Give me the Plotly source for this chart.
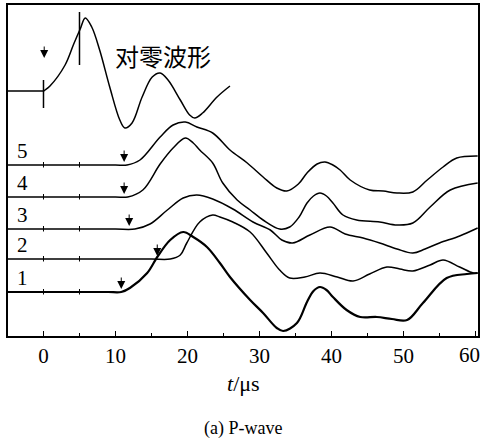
import plotly.graph_objects as go

# ---- data (time in microseconds, amplitude in plot units) ----
zero_t = [-5, -0.5, 0, 0.2, 0.9, 3.0, 4.2, 5.1, 5.8, 6.7, 7.8, 9.2, 10.6, 11.3, 12.3, 13.7,
          15.1, 16.2, 17.3, 19.0, 20.3, 21.0, 22.1, 24.1, 25.9]
zero_a = [0, 0, 0, 1, 5, 26, 47, 62, 73, 64, 41, 4, -29, -37, -32, -6,
          14, 18, 11, -9, -24, -27, -22, -6, 5]

t5 = [-5, 0, 5, 10, 11.6, 13.4, 16.2, 18.0, 19.7, 21.3, 23.5, 25.9, 28.3, 30.5, 32.4, 33.8,
      35.4, 36.6, 38.0, 39.1, 40.2, 41.2, 42.6, 45.3, 47.2, 49.1, 51.3, 53.3, 55.5, 57.4, 60.3]
a5 = [0, 0, 0, 0, 0, 5, 28, 40, 43, 38, 32, 15, 2, -12, -23, -26,
      -19, -8, 1, 3, 0, -5, -15, -25, -26, -28, -27, -15, -2, 7, 9]

t4 = [-5, 0, 5, 10, 11.7, 13.8, 16.2, 18.0, 19.7, 20.8, 21.7, 23.5, 24.9, 26.9, 28.7, 30.5,
      32.8, 34.2, 35.5, 36.6, 37.5, 38.4, 39.3, 40.2, 41.6, 43.5, 46.7, 49.1, 51.3, 53.7, 56.5, 60.3]
a4 = [0, 0, 0, 0, 0, 7, 33, 49, 59, 54, 47, 34, 14, -3, -13, -23,
      -32, -30, -20, -6, 1, 4, 1, -6, -18, -23, -25, -28, -26, -10, 7, 14]

t3 = [-5, 0, 5, 10, 12.7, 14.8, 17.2, 19.4, 21.3, 23.5, 26.3, 29.1, 31.5, 33.1, 34.6,
      37.0, 39.8, 41.9, 44.4, 46.7, 49.1, 51.3, 53.0, 55.0, 57.8, 60.3]
a3 = [0, 0, 0, 0, 0, 5, 19, 31, 34, 30, 20, 7, -1, -11, -14,
      -6, 2, -5, -9, -14, -20, -24, -20, -14, -7, 1]

t2 = [-5, 0, 5, 10, 15, 17.6, 19.0, 19.9, 21.7, 23.5, 24.5, 26.3, 28.7, 31.0, 32.8, 34.2,
      36.3, 38.4, 40.8, 43.0, 45.3, 47.7, 49.5, 51.3, 53.7, 55.5, 57.8, 59.7, 60.3]
a2 = [0, 0, 0, 0, 0, 0, 4, 16, 37, 44, 42, 37, 27, 6, -11, -19,
      -18, -14, -18, -22, -15, -8, -10, -12, -6, -1, -8, -14, -14]

t1 = [-5, 0, 5, 9, 10.8, 12.0, 14.4, 15.8, 17.6, 19.4, 20.8, 22.7, 24.5, 25.9, 28.7, 30.5,
      32.4, 33.3, 35.2, 36.6, 37.5, 38.4, 39.3, 40.2, 42.1, 44.0, 46.3, 48.4, 50.5, 52.7,
      56.0, 58.8, 60.3]
a1 = [0, 0, 0, 0, 0, 4, 19, 35, 52, 60, 55, 45, 29, 15, -8, -21,
      -36, -39, -31, -10, 1, 5, 2, -5, -18, -25, -25, -27, -28, -11,
      14, 18, 19]

trace_labels = ["5", "4", "3", "2", "1"]
trace_times = [t5, t4, t3, t2, t1]
trace_amps = [a5, a4, a3, a2, a1]
baselines = [171, 139, 107, 77, 44]
zero_baseline = 245
onset_times = [11.2, 11.2, 11.9, 15.8, 10.8]
zero_onset = 0.1
marker_times = [0, 5]
x_ticks = [0, 10, 20, 30, 40, 50, 60]

SERIF = "Liberation Serif, Times New Roman, serif"
SMOOTH = 1.0

fig = go.Figure()

# zero-offset waveform
fig.add_trace(go.Scatter(
    x=zero_t, y=[zero_baseline + v for v in zero_a], mode="lines",
    line=dict(color="black", width=1.5, shape="spline", smoothing=SMOOTH),
    hoverinfo="skip", showlegend=False))

for i, (tt, aa, base) in enumerate(zip(trace_times, trace_amps, baselines)):
    width = 2.2 if trace_labels[i] == "1" else 1.5
    fig.add_trace(go.Scatter(
        x=tt, y=[base + v for v in aa], mode="lines",
        line=dict(color="black", width=width, shape="spline", smoothing=SMOOTH),
        hoverinfo="skip", showlegend=False))

shapes = []
# small time markers on each baseline
for base in baselines:
    for mt in marker_times:
        shapes.append(dict(type="line", xref="x", yref="y", x0=mt, x1=mt,
                           y0=base - 2.5, y1=base + 3, line=dict(color="black", width=1)))
# trigger marks on zero-offset trace
shapes.append(dict(type="line", xref="x", yref="y", x0=marker_times[0], x1=marker_times[0],
                   y0=zero_baseline - 17, y1=zero_baseline + 11, line=dict(color="black", width=1.5)))
shapes.append(dict(type="line", xref="x", yref="y", x0=marker_times[1], x1=marker_times[1],
                   y0=zero_baseline + 26, y1=zero_baseline + 79, line=dict(color="black", width=1.5)))

annotations = []
# onset arrows
for base, ot in zip(baselines, onset_times):
    annotations.append(dict(x=ot, y=base + 3, xref="x", yref="y", text="", showarrow=True,
                            ax=0, ay=-13, arrowhead=2, arrowsize=1.6, arrowwidth=1,
                            arrowcolor="black"))
annotations.append(dict(x=zero_onset, y=zero_baseline + 33, xref="x", yref="y", text="",
                        showarrow=True, ax=0, ay=-13, arrowhead=2, arrowsize=1.6,
                        arrowwidth=1, arrowcolor="black"))
# trace numbers
for lab, base in zip(trace_labels, baselines):
    annotations.append(dict(x=-2.85, y=base + 14, xref="x", yref="y", text=lab,
                            showarrow=False, font=dict(family=SERIF, size=21, color="black")))
annotations.append(dict(x=16.6, y=281, xref="x", yref="y", text="对零波形", showarrow=False,
                        font=dict(family="Noto Sans CJK SC", size=24, color="black")))
# last tick label kept inside the picture
last_tick = x_ticks[-1]
annotations.append(dict(x=last_tick, y=0, xref="x", yref="paper", text=str(last_tick),
                        showarrow=False, xanchor="center", yanchor="middle",
                        xshift=-6, yshift=-19,
                        font=dict(family=SERIF, size=21, color="black")))
# axis title and caption
annotations.append(dict(x=0.5, y=-0.142, xref="paper", yref="paper", text="<i>t</i>/μs",
                        showarrow=False, yanchor="middle",
                        font=dict(family=SERIF, size=22, color="black")))
annotations.append(dict(x=0.5, y=-0.28, xref="paper", yref="paper", text="(a) P-wave",
                        showarrow=False, yanchor="middle",
                        font=dict(family=SERIF, size=18, color="black")))

fig.update_layout(
    width=483, height=441,
    margin=dict(l=8, r=5, t=5, b=105),
    paper_bgcolor="white", plot_bgcolor="white",
    shapes=shapes, annotations=annotations,
    xaxis=dict(range=[-4.93, 60.35], showline=True, linecolor="black", linewidth=1.5,
               mirror=True, ticks="inside", ticklen=5, tickwidth=1, tickcolor="black",
               tickvals=x_ticks,
               ticktext=[str(v) for v in x_ticks[:-1]] + [""],
               automargin=False,
               tickfont=dict(family=SERIF, size=21, color="black"),
               minor=dict(tickvals=[5, 15, 25, 35, 45, 55], ticks="inside", ticklen=3,
                          tickcolor="black", tickwidth=1),
               showgrid=False, zeroline=False),
    yaxis=dict(range=[0, 331], showline=True, linecolor="black", linewidth=1.5, mirror=True,
               showticklabels=False, ticks="", showgrid=False, zeroline=False,
               automargin=False),
)

fig.write_html("out.html", config={"displayModeBar": False},
               post_script="document.body.style.margin='0';")
